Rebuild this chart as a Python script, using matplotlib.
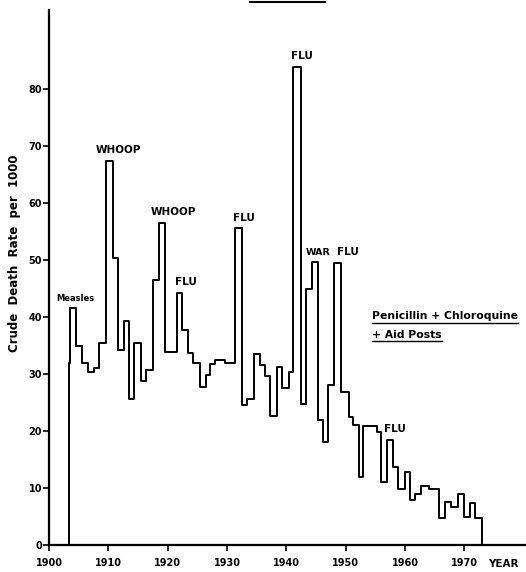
# Crude death rate step chart, 1900-1973

import matplotlib.pyplot as plt
from matplotlib.lines import Line2D

# Step start years and the rate held until the next step
years = [1903.3, 1903.6, 1904.5, 1905.6, 1906.6, 1907.6, 1908.5, 1909.6, 1910.8,
         1911.7, 1912.6, 1913.5, 1914.3, 1915.5, 1916.4, 1917.5, 1918.5, 1919.6,
         1921.6, 1922.5, 1923.5, 1924.3, 1925.5, 1926.4, 1927.2, 1928.0, 1929.6,
         1931.4, 1932.5, 1933.3, 1934.5, 1935.5, 1936.4, 1937.2, 1938.4, 1939.2,
         1940.4, 1941.1, 1942.4, 1943.3, 1944.3, 1945.4, 1946.2, 1947.0, 1948.0,
         1949.2, 1950.5, 1951.3, 1952.2, 1953.0, 1955.3, 1955.9, 1956.9, 1957.9,
         1958.9, 1960.0, 1960.8, 1961.7, 1962.7, 1964.0, 1965.8, 1966.8, 1967.7,
         1968.9, 1970.0, 1971.0, 1971.8]
end_year = 1973.0

rates = [32.0, 41.6, 34.9, 31.9, 30.4, 31.0, 35.5, 67.4, 50.3,
         34.3, 39.3, 25.6, 35.4, 28.7, 30.7, 46.5, 56.6, 33.9,
         44.3, 37.7, 33.7, 31.9, 27.8, 29.8, 31.8, 32.5, 32.0,
         55.7, 24.6, 25.6, 33.5, 31.6, 29.6, 22.6, 31.3, 27.5,
         30.4, 83.9, 24.8, 45.0, 49.7, 21.9, 18.0, 28.0, 49.5,
         26.9, 22.5, 21.0, 11.9, 20.9, 19.9, 11.1, 18.5, 13.7,
         9.8, 12.9, 7.9, 8.9, 10.4, 9.9, 4.7, 7.6, 6.6,
         8.9, 4.9, 7.4, 4.7]

# Event labels: text, year, rate
events = ['Measles', 'WHOOP', 'WHOOP', 'FLU', 'FLU', 'FLU', 'WAR', 'FLU', 'FLU']
event_years = [1901.2, 1907.9, 1917.1, 1921.3, 1931.0, 1940.8, 1943.2, 1948.6, 1956.5]
event_rates = [42.5, 68.5, 57.5, 45.2, 56.6, 85.0, 50.6, 50.6, 19.4]

xticks = list(range(1900, 1971, 10))
yticks = list(range(0, 81, 10))

fig = plt.figure(figsize=(5.26, 5.72), dpi=100)
ax = fig.add_axes([49 / 526, 27 / 572, 477 / 526, 535 / 572])

# Step outline, starting and ending on the zero line
xs = [years[0]] + years + [end_year, end_year]
ys = [0] + rates + [rates[-1], 0]
ax.step(xs, ys, where='post', color='black', lw=1.4)

ax.set_xlim(1900, 1980.4)
ax.set_ylim(0, 93.9)
ax.set_xticks(xticks)
ax.set_yticks(yticks)
ax.tick_params(direction='out', length=4, width=1.2, labelsize=7, pad=1)
ax.tick_params(axis='x', pad=5)
for lab in ax.get_xticklabels() + ax.get_yticklabels():
    lab.set_fontweight('bold')

for side in ['top', 'right']:
    ax.spines[side].set_visible(False)
for side in ['left', 'bottom']:
    ax.spines[side].set_linewidth(1.6)

ax.set_ylabel('Crude  Death  Rate  per  1000', fontsize=8.5, fontweight='bold')
ax.yaxis.set_label_coords(-0.058, 0.545)
fig.text(488 / 526, 1 - 567 / 572, 'YEAR', fontsize=7.5, fontweight='bold', va='baseline')

for txt, yr, r in zip(events, event_years, event_rates):
    size = 6 if txt == 'Measles' else (6.8 if txt == 'WAR' else 7.5)
    ax.text(yr, r, txt, fontsize=size, fontweight='bold', va='bottom', ha='left')

# Underlined note
notes = [ax.text(1954.5, 39.6, 'Penicillin + Chloroquine', fontsize=7.8, fontweight='bold'),
         ax.text(1954.5, 36.3, '+ Aid Posts', fontsize=7.8, fontweight='bold')]
fig.canvas.draw()
inv = fig.transFigure.inverted()
for t in notes:
    bb = t.get_window_extent().transformed(inv)
    fig.add_artist(Line2D([bb.x0, bb.x1], [bb.y0 - 0.002, bb.y0 - 0.002],
                          color='black', lw=1.0, transform=fig.transFigure))

# Cut-off underline of the original heading
fig.add_artist(Line2D([250 / 526, 325 / 526], [1 - 1.5 / 572, 1 - 1.5 / 572],
                      color='black', lw=1.5, transform=fig.transFigure))

fig.savefig('out.png', dpi=100)
